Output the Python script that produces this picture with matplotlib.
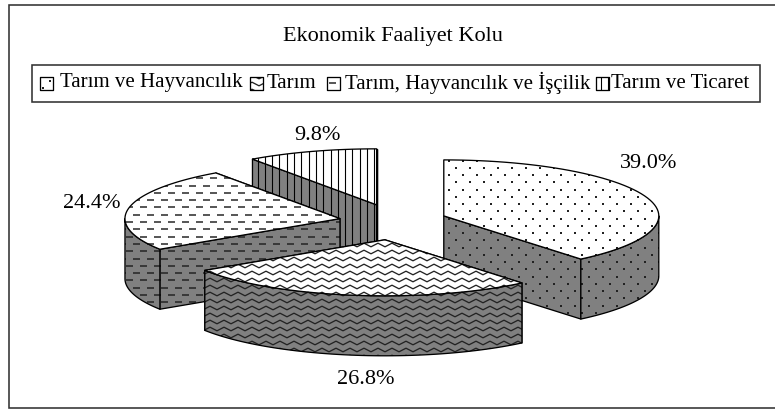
#!/usr/bin/env python3
"""Exploded 3D-style pie with pattern fills, drawn in pixel coordinates."""
import numpy as np
import matplotlib
matplotlib.use('Agg')
import matplotlib.pyplot as plt
from matplotlib.patches import Polygon, Rectangle
from matplotlib.collections import LineCollection

title = "Ekonomik Faaliyet Kolu"
categories = ["Tarım ve Hayvancılık", "Tarım", "Tarım, Hayvancılık ve İşçilik", "Tarım ve Ticaret"]
values = [39.0, 26.8, 24.4, 9.8]
patterns = ["dots", "waves", "dashes", "vlines"]

# layout, in pixels of the 775x409 picture
CX, CY = 393, 222
RX, RY = 215, 56
EXPLODE_X, EXPLODE_Y = 54, 18
DEPTH = 60
PX = 0.72  # one pixel in points at dpi 100
LABEL_POS = [(649, 164), (365.5, 379), (92, 203), (317, 135)]
LEGEND_SWATCH_X = [40, 250, 327, 596]
LEGEND_TEXT_X = [60, 267, 345, 611]
FONT = 'Liberation Serif'

plt.rcParams['font.family'] = FONT

fig = plt.figure(figsize=(7.75, 4.09), dpi=100)
ax = fig.add_axes([0, 0, 1, 1])
ax.set_xlim(0, 775)
ax.set_ylim(409, 0)
ax.axis('off')

z = [10]


def next_z():
    z[0] += 1
    return z[0]


def fill_pattern(pts, face, pattern, outline=True):
    """Polygon with a pattern clipped to it, patterns anchored to the picture."""
    patch = Polygon(pts, closed=True, fc=face, ec='none', zorder=next_z())
    ax.add_patch(patch)
    x0, x1 = pts[:, 0].min() - 30, pts[:, 0].max() + 30
    y0, y1 = pts[:, 1].min() - 10, pts[:, 1].max() + 10
    zo = next_z()
    if pattern == "dots":
        xs, ys = [], []
        rows = np.arange(np.floor(y0 / 7.25), np.ceil(y1 / 7.25))
        for r in rows:
            shift = 7 if int(r) % 2 else 0
            row_x = np.arange(np.floor(x0 / 14) * 14, x1, 14) + shift
            xs.extend(row_x + 1)
            ys.extend([r * 7.25 + 1] * len(row_x))
        art, = ax.plot(xs, ys, ls='none', marker='s', ms=1.5, mew=0, color='#222222', zorder=zo)
    elif pattern == "dashes":
        segs = []
        for r in np.arange(np.floor(y0 / 7.3), np.ceil(y1 / 7.3)):
            shift = 7 if int(r) % 2 else 0
            for x in np.arange(np.floor(x0 / 14) * 14, x1, 14) + shift:
                segs.append([(x, r * 7.3 + 3), (x + 7, r * 7.3 + 3)])
        art = LineCollection(segs, colors='#222222', linewidths=1.5 * PX, zorder=zo)
        ax.add_collection(art)
    elif pattern == "waves":
        segs = []
        xs = np.arange(np.floor(x0 / 14) * 14, x1 + 14, 7)
        offs = np.where(np.arange(len(xs)) % 2 == 0, -1.8, 1.8)
        for r in np.arange(np.floor(y0 / 7), np.ceil(y1 / 7)):
            segs.append(np.column_stack([xs, r * 7 + offs]))
        art = LineCollection(segs, colors='#222222', linewidths=1.3 * PX, zorder=zo)
        ax.add_collection(art)
    else:
        segs = [[(x, y0), (x, y1)] for x in np.arange(np.floor(x0 / 7.3) * 7.3, x1, 7.3) + 2]
        art = LineCollection(segs, colors='black', linewidths=1.1 * PX, zorder=zo)
        ax.add_collection(art)
    art.set_clip_path(patch)
    if outline:
        ax.add_patch(Polygon(pts, closed=True, fc='none', ec='black',
                             lw=1.3 * PX, joinstyle='round', zorder=next_z()))


def arc(cx, cy, a, b, n=60):
    t = np.radians(np.linspace(a, b, n))
    return np.column_stack([cx + RX * np.sin(t), cy - RY * np.cos(t)])


def draw_slice(a, b, pattern):
    mid = np.radians((a + b) / 2)
    cx = CX + EXPLODE_X * np.sin(mid)
    cy = CY - EXPLODE_Y * np.cos(mid)
    drop = np.array([0, DEPTH])
    centre = np.array([cx, cy])

    # radial faces, back one first
    edges = sorted([a, b], key=lambda d: -np.cos(np.radians(d)))
    for d in edges:
        p = arc(cx, cy, d, d, 1)[0]
        fill_pattern(np.array([centre, p, p + drop, centre + drop]), '#808080', pattern)

    # outer wall, only where it faces the viewer
    lo, hi = max(a, 90), min(b, 270)
    if lo < hi:
        top = arc(cx, cy, lo, hi)
        fill_pattern(np.vstack([top, (top + drop)[::-1]]), '#808080', pattern)

    fill_pattern(np.vstack([centre, arc(cx, cy, a, b)]), 'white', pattern)


# outer frame runs off the right side of the picture
ax.add_patch(Rectangle((9, 5), 790, 403, fc='white', ec='#333333', lw=1.6 * PX, zorder=1))

ax.text(392.5, 36, title, ha='center', va='center', fontsize=16, color='black', zorder=2)

ax.add_patch(Rectangle((32, 65), 728, 37, fc='white', ec='#333333', lw=1.6 * PX, zorder=2))
for cat, pat, sx, tx in zip(categories, patterns, LEGEND_SWATCH_X, LEGEND_TEXT_X):
    sw = np.array([(sx, 77), (sx + 13, 77), (sx + 13, 90), (sx, 90)], dtype=float)
    fill_pattern(sw, 'white', pat)
    ax.text(tx, 83, cat, ha='left', va='center', fontsize=15, color='black', zorder=next_z())

# slice angles run clockwise from twelve o'clock
edges = np.concatenate([[0], np.cumsum(values)]) / np.sum(values) * 360
slices = [(edges[i], edges[i + 1], patterns[i]) for i in range(len(values))]
for i in [3, 2, 0, 1]:
    draw_slice(*slices[i])

for v, (lx, ly) in zip(values, LABEL_POS):
    ax.text(lx, ly, f"{v:.1f}%", ha='center', va='center', fontsize=16, color='black', zorder=next_z())

fig.savefig('out.png', dpi=100, facecolor='white')
plt.close(fig)
